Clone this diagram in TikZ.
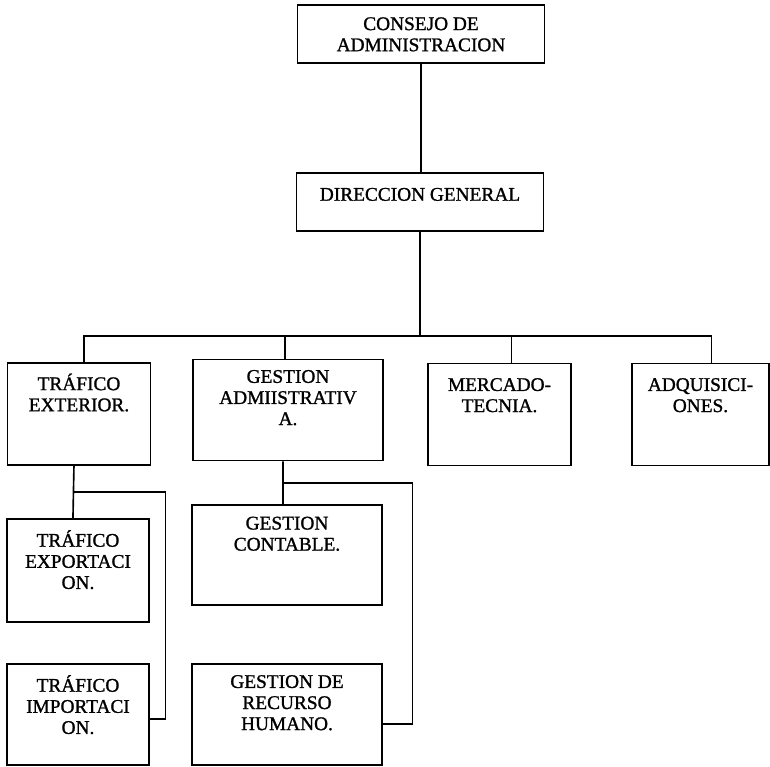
\documentclass[tikz,border=0pt]{standalone}
\usepackage{fontspec}
\setmainfont{Liberation Serif}[AutoFakeBold=1.2]
\usetikzlibrary{positioning,calc}

\begin{document}
\begin{tikzpicture}[x=0.03cm,y=-0.03cm,line width=1.4pt]
    \tikzstyle{every node}+=[inner sep=0pt]
    \tikzstyle{big}=[draw,minimum width=7.42cm,minimum height=1.74cm]
    \tikzstyle{narrow}=[draw,minimum width=4.3cm,minimum height=3.06cm]
    \tikzstyle{wide}=[draw,minimum width=5.7cm,minimum height=3.03cm]
    \tikzstyle{txt}=[align=center,font=\fontsize{16.5}{18}\selectfont\bfseries,execute at begin node={\vphantom{Á}}]
    \useasboundingbox (0,0) rectangle (770,767);
    % top
    \node [big] (cons) at (421,34) {};
    \node [txt,below=10.5pt of cons.north] (cons-t) {CONSEJO DE\\ADMINISTRACION};
    \node [big] (dire) at (420,202) {};
    \node [txt,below=9.5pt of dire.north] (dire-t) {DIRECCION GENERAL};
    % departamentos
    \node [narrow] (extr) at (79,414) {};
    \node [txt,below=9pt of extr.north] (extr-t) {TRÁFICO\\EXTERIOR.};
    \node [wide] (gadm) at (288,410) {};
    \node [txt,below=9pt of gadm.north] (gadm-t) {GESTION\\ADMIISTRATIV\\A.};
    \node [narrow] (merc) at (499.5,414.5) {};
    \node [txt,below=12.5pt of merc.north] (merc-t) {MERCADO-\\TECNIA.};
    \node [narrow,minimum width=4.11cm] (adqu) at (700.5,414.5) {};
    \node [txt,below=12.5pt of adqu.north] (adqu-t) {ADQUISICI-\\ONES.};
    % subareas
    \node [narrow,minimum width=4.26cm,minimum height=3.09cm] (expo) at (78,570.5) {};
    \node [txt,below=9.5pt of expo.north] (expo-t) {TRÁFICO\\EXPORTACI\\ON.};
    \node [narrow,minimum width=4.26cm,minimum height=3.03cm] (impo) at (78,714.5) {};
    \node [txt,below=9.5pt of impo.north] (impo-t) {TRÁFICO\\IMPORTACI\\ON.};
    \node [wide,minimum height=3cm] (cont) at (287,555) {};
    \node [txt,below=10pt of cont.north] (cont-t) {GESTION\\CONTABLE.};
    \node [wide] (recu) at (287,714.5) {};
    \node [txt,below=9.5pt of recu.north] (recu-t) {GESTION DE\\RECURSO\\HUMANO.};
    % lineas
    \coordinate (bar) at (421,336);
    \draw (cons.south) -- (cons.south |- dire.north);
    \draw (dire.south) -- (dire.south |- bar);
    \draw (bar) -| ([xshift=4.3pt]extr.north);
    \draw (bar) -| ([xshift=-2.5pt]gadm.north);
    \draw (bar) -| ([xshift=10.2pt]merc.north);
    \draw (bar) -| ([xshift=9.4pt]adqu.north);
    \coordinate (ej) at ($(extr.south)!0.5!(expo.north)$);
    \draw ([xshift=-4.3pt]extr.south) -- ([xshift=-4.3pt]expo.north);
    \draw ([xshift=-4.3pt]ej) -- ++(92,0) |- ([yshift=-3.8pt]impo.east);
    \coordinate (gj) at ($(gadm.south)!0.5!(cont.north)$);
    \draw ([xshift=-4.3pt]gadm.south) -- ([xshift=-3.4pt]cont.north);
    \draw ([xshift=-4.3pt]gj) -- ++(130,0) |- ([yshift=-8pt]recu.east);
\end{tikzpicture}
\end{document}
